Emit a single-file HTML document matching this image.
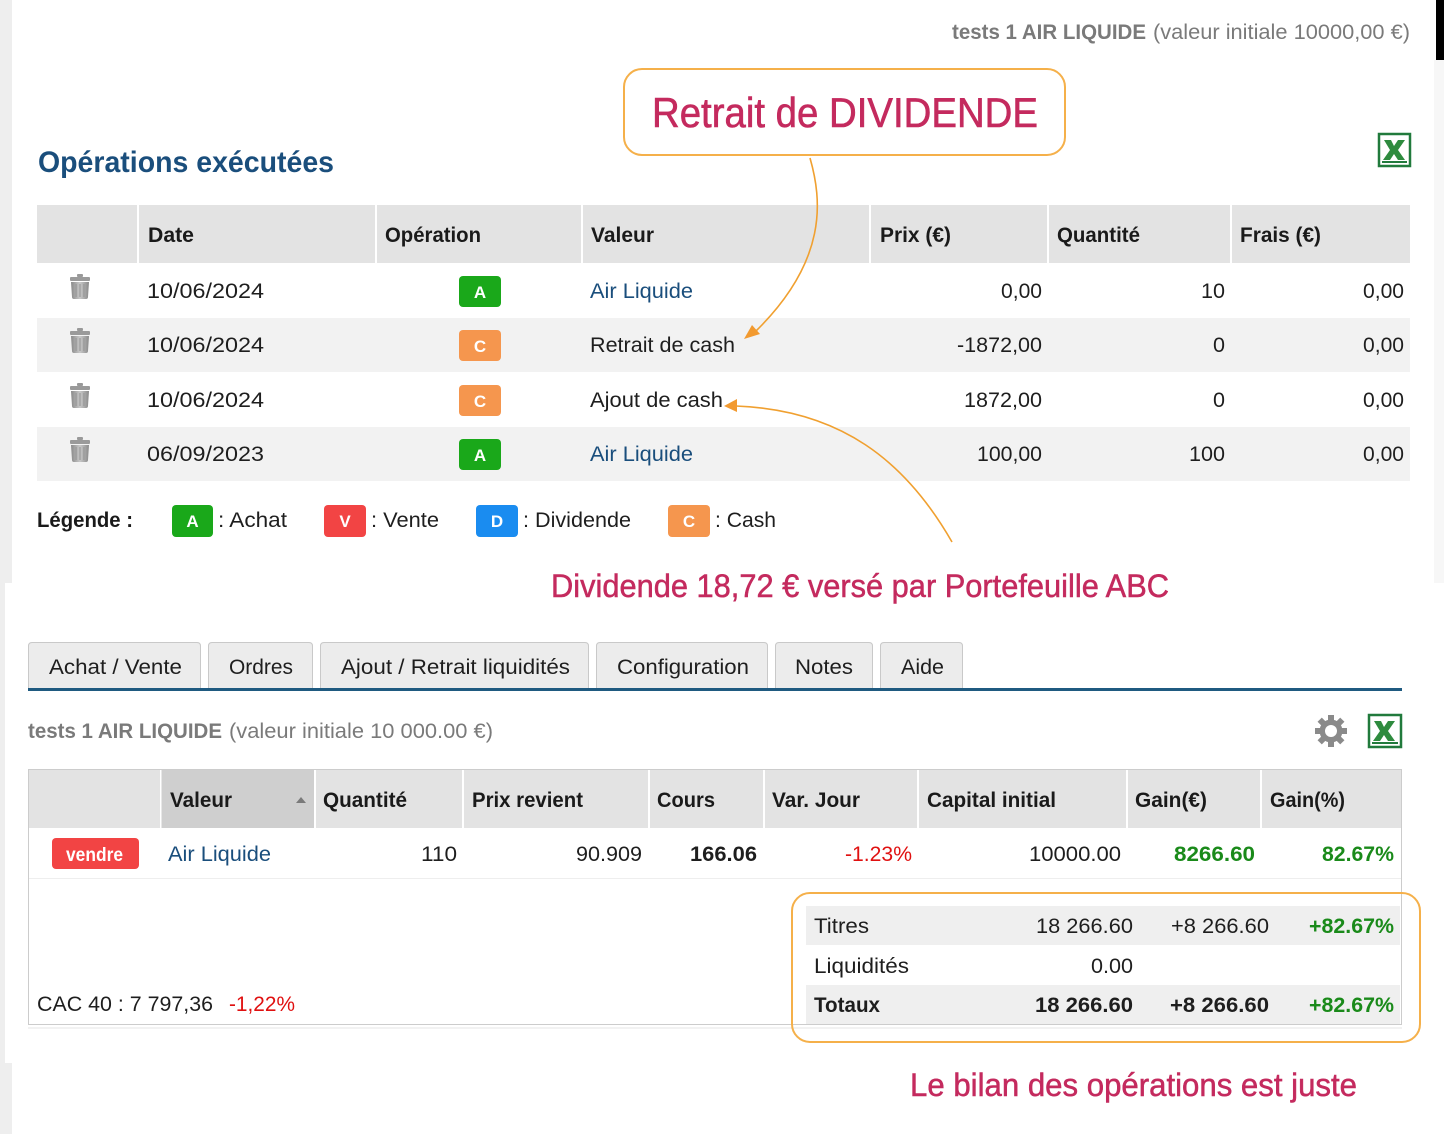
<!DOCTYPE html>
<html><head><meta charset="utf-8"><style>
html,body{margin:0;padding:0;background:#fff;}
svg{display:block;}
text{font-family:"Liberation Sans",sans-serif;}
</style></head><body>
<svg width="1444" height="1134" viewBox="0 0 1444 1134" xmlns="http://www.w3.org/2000/svg">
<rect x="0" y="0" width="1444" height="1134" fill="#fff"/>
<!-- side strips -->
<rect x="0" y="0" width="12" height="583" fill="#eeeeee"/>
<rect x="0" y="583" width="5" height="480" fill="#eeeeee"/>
<rect x="0" y="1063" width="12" height="71" fill="#eeeeee"/>
<rect x="1436" y="0" width="8" height="60" fill="#000"/>
<rect x="1434" y="60" width="10" height="523" fill="#f7f7f7"/>

<!-- top header -->
<text x="952" y="39" font-size="21" font-weight="bold" fill="#7a7a7a" textLength="194" lengthAdjust="spacingAndGlyphs">tests 1 AIR LIQUIDE</text>
<text x="1153" y="39" font-size="21" fill="#7a7a7a" textLength="257" lengthAdjust="spacingAndGlyphs">(valeur initiale 10000,00 €)</text>

<!-- callout -->
<rect x="624" y="69" width="441" height="86" rx="18" ry="18" fill="#fff" stroke="#f5b04a" stroke-width="2"/>
<text x="652" y="127" font-size="42" fill="#c42a5e" stroke="#c42a5e" stroke-width="0.6" textLength="386" lengthAdjust="spacingAndGlyphs">Retrait de DIVIDENDE</text>

<!-- title -->
<text x="38" y="172" font-size="30" font-weight="bold" fill="#1a4e7c" textLength="296" lengthAdjust="spacingAndGlyphs">Opérations exécutées</text>

<!-- excel icon top -->
<g transform="translate(1378,133)">
<rect x="1" y="1" width="31" height="32" fill="#fff" stroke="#217a3c" stroke-width="2.5"/>
<path d="M6 7 L13 7 L16 13 L20 7 L27 7 L20 17 L27 27 L20 27 L16 21 L12 27 L5 27 L12 17 Z" fill="#2e8b3e"/>
<rect x="4" y="28" width="25" height="2" fill="#217a3c"/>
</g>

<!-- table 1 header -->
<rect x="37" y="205" width="1373" height="58" fill="#e3e3e3"/>
<g fill="#fff">
<rect x="137" y="205" width="2" height="58"/><rect x="375" y="205" width="2" height="58"/>
<rect x="581" y="205" width="2" height="58"/><rect x="869" y="205" width="2" height="58"/>
<rect x="1047" y="205" width="2" height="58"/><rect x="1230" y="205" width="2" height="58"/>
</g>
<g font-size="21" font-weight="bold" fill="#1a1a1a">
<text x="148" y="242" textLength="46" lengthAdjust="spacingAndGlyphs">Date</text>
<text x="385" y="242" textLength="96" lengthAdjust="spacingAndGlyphs">Opération</text>
<text x="591" y="242" textLength="63" lengthAdjust="spacingAndGlyphs">Valeur</text>
<text x="880" y="242" textLength="71" lengthAdjust="spacingAndGlyphs">Prix (€)</text>
<text x="1057" y="242" textLength="83" lengthAdjust="spacingAndGlyphs">Quantité</text>
<text x="1240" y="242" textLength="81" lengthAdjust="spacingAndGlyphs">Frais (€)</text>
</g>
<!-- rows -->
<rect x="37" y="318" width="1373" height="54" fill="#f2f2f2"/>
<rect x="37" y="427" width="1373" height="54" fill="#f2f2f2"/>

<defs>
<linearGradient id="tg" x1="0" x2="1" y1="0" y2="0">
<stop offset="0" stop-color="#8a8a8a"/><stop offset="0.5" stop-color="#c8c8c8"/><stop offset="1" stop-color="#8a8a8a"/>
</linearGradient>
<g id="trash">
<rect x="-3" y="-14" width="6" height="3" rx="1" fill="#999"/>
<rect x="-10" y="-11" width="20" height="4" rx="1" fill="#9a9a9a"/>
<path d="M-9 -6 L9 -6 L8 9 Q8 11 6 11 L-6 11 Q-8 11 -8 9 Z" fill="url(#tg)"/>
<rect x="-4.5" y="-4" width="1.2" height="13" fill="#999"/><rect x="-0.6" y="-4" width="1.2" height="13" fill="#999"/><rect x="3.3" y="-4" width="1.2" height="13" fill="#999"/>
</g>
</defs>
<use href="#trash" x="80" y="288"/>
<use href="#trash" x="80" y="342"/>
<use href="#trash" x="80" y="397"/>
<use href="#trash" x="80" y="451"/>

<!-- badges -->
<rect x="459" y="276" width="42" height="31" rx="4" fill="#1aa81a"/>
<rect x="459" y="330" width="42" height="31" rx="4" fill="#f5964e"/>
<rect x="459" y="385" width="42" height="31" rx="4" fill="#f5964e"/>
<rect x="459" y="439" width="42" height="31" rx="4" fill="#1aa81a"/>
<g font-size="17" font-weight="bold" fill="#fff" text-anchor="middle">
<text x="480" y="298">A</text><text x="480" y="352">C</text><text x="480" y="407">C</text><text x="480" y="461">A</text>
</g>

<g font-size="21" fill="#1e1e1e">
<text x="147" y="298" textLength="117" lengthAdjust="spacingAndGlyphs">10/06/2024</text>
<text x="147" y="352" textLength="117" lengthAdjust="spacingAndGlyphs">10/06/2024</text>
<text x="147" y="407" textLength="117" lengthAdjust="spacingAndGlyphs">10/06/2024</text>
<text x="147" y="461" textLength="117" lengthAdjust="spacingAndGlyphs">06/09/2023</text>
<text x="590" y="298" fill="#1a4e7c" textLength="103" lengthAdjust="spacingAndGlyphs">Air Liquide</text>
<text x="590" y="352" textLength="145" lengthAdjust="spacingAndGlyphs">Retrait de cash</text>
<text x="590" y="407" textLength="133" lengthAdjust="spacingAndGlyphs">Ajout de cash</text>
<text x="590" y="461" fill="#1a4e7c" textLength="103" lengthAdjust="spacingAndGlyphs">Air Liquide</text>
<text x="1001" y="298" textLength="41" lengthAdjust="spacingAndGlyphs">0,00</text>
<text x="957" y="352" textLength="85" lengthAdjust="spacingAndGlyphs">-1872,00</text>
<text x="964" y="407" textLength="78" lengthAdjust="spacingAndGlyphs">1872,00</text>
<text x="977" y="461" textLength="65" lengthAdjust="spacingAndGlyphs">100,00</text>
<text x="1201" y="298" textLength="24" lengthAdjust="spacingAndGlyphs">10</text>
<text x="1213" y="352" textLength="12" lengthAdjust="spacingAndGlyphs">0</text>
<text x="1213" y="407" textLength="12" lengthAdjust="spacingAndGlyphs">0</text>
<text x="1189" y="461" textLength="36" lengthAdjust="spacingAndGlyphs">100</text>
<text x="1363" y="298" textLength="41" lengthAdjust="spacingAndGlyphs">0,00</text>
<text x="1363" y="352" textLength="41" lengthAdjust="spacingAndGlyphs">0,00</text>
<text x="1363" y="407" textLength="41" lengthAdjust="spacingAndGlyphs">0,00</text>
<text x="1363" y="461" textLength="41" lengthAdjust="spacingAndGlyphs">0,00</text>
</g>

<!-- legend -->
<text x="37" y="527" font-size="21" font-weight="bold" fill="#1a1a1a" textLength="96" lengthAdjust="spacingAndGlyphs">Légende :</text>
<rect x="172" y="505" width="41" height="32" rx="4" fill="#1aa81a"/>
<rect x="324" y="505" width="42" height="32" rx="4" fill="#f24444"/>
<rect x="476" y="505" width="42" height="32" rx="4" fill="#1a8cf0"/>
<rect x="668" y="505" width="42" height="32" rx="4" fill="#f5964e"/>
<g font-size="17" font-weight="bold" fill="#fff" text-anchor="middle">
<text x="192.5" y="527">A</text><text x="345" y="527">V</text><text x="497" y="527">D</text><text x="689" y="527">C</text>
</g>
<g font-size="21" fill="#1e1e1e">
<text x="218" y="527" textLength="69" lengthAdjust="spacingAndGlyphs">: Achat</text>
<text x="371" y="527" textLength="68" lengthAdjust="spacingAndGlyphs">: Vente</text>
<text x="523" y="527" textLength="108" lengthAdjust="spacingAndGlyphs">: Dividende</text>
<text x="715" y="527" textLength="61" lengthAdjust="spacingAndGlyphs">: Cash</text>
</g>

<!-- arrows -->
<g fill="none" stroke="#f0a030" stroke-width="1.6">
<path d="M810 158 C 822 200, 828 260, 756 331"/>
<path d="M952 542 C 905 460, 840 410, 736 406"/>
</g>
<path d="M744 339 L752 325 L760 334 Z" fill="#f29a30"/>
<path d="M724 406 L737 399 L737 412 Z" fill="#f29a30"/>

<!-- annotation -->
<text x="551" y="597" font-size="32" fill="#c42a5e" stroke="#c42a5e" stroke-width="0.5" textLength="618" lengthAdjust="spacingAndGlyphs">Dividende 18,72 € versé par Portefeuille ABC</text>

<!-- tabs -->
<g fill="#ececec" stroke="#c9c9c9" stroke-width="1">
<path d="M28.5 689 L28.5 646 Q28.5 642.5 32 642.5 L197 642.5 Q200.5 642.5 200.5 646 L200.5 689"/>
<path d="M208.5 689 L208.5 646 Q208.5 642.5 212 642.5 L309 642.5 Q312.5 642.5 312.5 646 L312.5 689"/>
<path d="M320.5 689 L320.5 646 Q320.5 642.5 324 642.5 L585 642.5 Q588.5 642.5 588.5 646 L588.5 689"/>
<path d="M596.5 689 L596.5 646 Q596.5 642.5 600 642.5 L764 642.5 Q767.5 642.5 767.5 646 L767.5 689"/>
<path d="M775.5 689 L775.5 646 Q775.5 642.5 779 642.5 L869 642.5 Q872.5 642.5 872.5 646 L872.5 689"/>
<path d="M880.5 689 L880.5 646 Q880.5 642.5 884 642.5 L959 642.5 Q962.5 642.5 962.5 646 L962.5 689"/>
</g>
<rect x="28" y="688" width="1374" height="3" fill="#1f5a80"/>
<g font-size="21" fill="#1e1e1e">
<text x="49" y="674" textLength="133" lengthAdjust="spacingAndGlyphs">Achat / Vente</text>
<text x="229" y="674" textLength="64" lengthAdjust="spacingAndGlyphs">Ordres</text>
<text x="341" y="674" textLength="229" lengthAdjust="spacingAndGlyphs">Ajout / Retrait liquidités</text>
<text x="617" y="674" textLength="132" lengthAdjust="spacingAndGlyphs">Configuration</text>
<text x="795" y="674" textLength="58" lengthAdjust="spacingAndGlyphs">Notes</text>
<text x="901" y="674" textLength="43" lengthAdjust="spacingAndGlyphs">Aide</text>
</g>

<!-- subtitle -->
<text x="28" y="738" font-size="21" font-weight="bold" fill="#7a7a7a" textLength="194" lengthAdjust="spacingAndGlyphs">tests 1 AIR LIQUIDE</text>
<text x="229" y="738" font-size="21" fill="#7a7a7a" textLength="264" lengthAdjust="spacingAndGlyphs">(valeur initiale 10 000.00 €)</text>

<!-- gear -->
<g transform="translate(1331,731)" fill="#8a8a8a">
<rect x="-3" y="-16" width="6" height="32"/>
<rect x="-3" y="-16" width="6" height="32" transform="rotate(45)"/>
<rect x="-3" y="-16" width="6" height="32" transform="rotate(90)"/>
<rect x="-3" y="-16" width="6" height="32" transform="rotate(135)"/>
<circle r="11.5"/>
<circle r="6" fill="#fff"/>
</g>
<!-- excel icon 2 -->
<g transform="translate(1368,714)">
<rect x="1" y="1" width="32" height="32" fill="#fff" stroke="#217a3c" stroke-width="2.5"/>
<path d="M6 7 L13 7 L16 13 L20 7 L27 7 L20 17 L27 27 L20 27 L16 21 L12 27 L5 27 L12 17 Z" fill="#2e8b3e"/>
<rect x="4" y="28" width="26" height="2" fill="#217a3c"/>
</g>

<!-- table 2 -->
<rect x="28.5" y="769.5" width="1373" height="255" fill="#fff" stroke="#cccccc" stroke-width="1"/>
<rect x="29" y="770" width="1372" height="58" fill="#e3e3e3"/>
<rect x="161" y="770" width="153" height="58" fill="#cfcfcf"/>
<g fill="#fff">
<rect x="160" y="770" width="1.5" height="58"/><rect x="314" y="770" width="2" height="58"/>
<rect x="462" y="770" width="2" height="58"/><rect x="648" y="770" width="2" height="58"/>
<rect x="763" y="770" width="2" height="58"/><rect x="917" y="770" width="2" height="58"/>
<rect x="1126" y="770" width="2" height="58"/><rect x="1260" y="770" width="2" height="58"/>
</g>
<path d="M296 803 L301 797 L306 803 Z" fill="#7a7a7a"/>
<g font-size="21" font-weight="bold" fill="#1a1a1a">
<text x="170" y="807" textLength="62" lengthAdjust="spacingAndGlyphs">Valeur</text>
<text x="323" y="807" textLength="84" lengthAdjust="spacingAndGlyphs">Quantité</text>
<text x="472" y="807" textLength="111" lengthAdjust="spacingAndGlyphs">Prix revient</text>
<text x="657" y="807" textLength="58" lengthAdjust="spacingAndGlyphs">Cours</text>
<text x="772" y="807" textLength="88" lengthAdjust="spacingAndGlyphs">Var. Jour</text>
<text x="927" y="807" textLength="129" lengthAdjust="spacingAndGlyphs">Capital initial</text>
<text x="1135" y="807" textLength="72" lengthAdjust="spacingAndGlyphs">Gain(€)</text>
<text x="1270" y="807" textLength="75" lengthAdjust="spacingAndGlyphs">Gain(%)</text>
</g>
<rect x="29" y="878" width="1372" height="1" fill="#eeeeee"/>
<rect x="52" y="838" width="87" height="31" rx="4" fill="#f24444"/>
<text x="66" y="861" font-size="19" font-weight="bold" fill="#fff" textLength="57" lengthAdjust="spacingAndGlyphs">vendre</text>
<g font-size="21" fill="#1e1e1e">
<text x="168" y="861" fill="#1a4e7c" textLength="103" lengthAdjust="spacingAndGlyphs">Air Liquide</text>
<text x="421" y="861" textLength="36" lengthAdjust="spacingAndGlyphs">110</text>
<text x="576" y="861" textLength="66" lengthAdjust="spacingAndGlyphs">90.909</text>
<text x="690" y="861" font-weight="bold" textLength="67" lengthAdjust="spacingAndGlyphs">166.06</text>
<text x="845" y="861" fill="#e01010" textLength="67" lengthAdjust="spacingAndGlyphs">-1.23%</text>
<text x="1029" y="861" textLength="92" lengthAdjust="spacingAndGlyphs">10000.00</text>
<text x="1174" y="861" fill="#1a8a1a" font-weight="bold" textLength="81" lengthAdjust="spacingAndGlyphs">8266.60</text>
<text x="1322" y="861" fill="#1a8a1a" font-weight="bold" textLength="72" lengthAdjust="spacingAndGlyphs">82.67%</text>
</g>

<!-- summary -->
<rect x="806" y="906" width="594" height="39" fill="#efefef"/>
<rect x="806" y="985" width="594" height="39" fill="#efefef"/>
<g font-size="21" fill="#1e1e1e">
<text x="814" y="933" textLength="55" lengthAdjust="spacingAndGlyphs">Titres</text>
<text x="1036" y="933" textLength="97" lengthAdjust="spacingAndGlyphs">18 266.60</text>
<text x="1171" y="933" textLength="98" lengthAdjust="spacingAndGlyphs">+8 266.60</text>
<text x="1309" y="933" fill="#1a8a1a" font-weight="bold" textLength="85" lengthAdjust="spacingAndGlyphs">+82.67%</text>
<text x="814" y="973" textLength="95" lengthAdjust="spacingAndGlyphs">Liquidités</text>
<text x="1091" y="973" textLength="42" lengthAdjust="spacingAndGlyphs">0.00</text>
<text x="814" y="1012" font-weight="bold" textLength="66" lengthAdjust="spacingAndGlyphs">Totaux</text>
<text x="1035" y="1012" font-weight="bold" textLength="98" lengthAdjust="spacingAndGlyphs">18 266.60</text>
<text x="1170" y="1012" font-weight="bold" textLength="99" lengthAdjust="spacingAndGlyphs">+8 266.60</text>
<text x="1309" y="1012" fill="#1a8a1a" font-weight="bold" textLength="85" lengthAdjust="spacingAndGlyphs">+82.67%</text>
<text x="37" y="1011" textLength="176" lengthAdjust="spacingAndGlyphs">CAC 40 : 7 797,36</text>
<text x="229" y="1011" fill="#e01010" textLength="66" lengthAdjust="spacingAndGlyphs">-1,22%</text>
</g>
<rect x="28" y="1027" width="1374" height="2" fill="#f2f2f2"/>

<rect x="792" y="893" width="628" height="149" rx="18" ry="18" fill="none" stroke="#f5b04a" stroke-width="2"/>

<text x="910" y="1096" font-size="32" fill="#c42a5e" stroke="#c42a5e" stroke-width="0.5" textLength="447" lengthAdjust="spacingAndGlyphs">Le bilan des opérations est juste</text>
</svg>
</body></html>
